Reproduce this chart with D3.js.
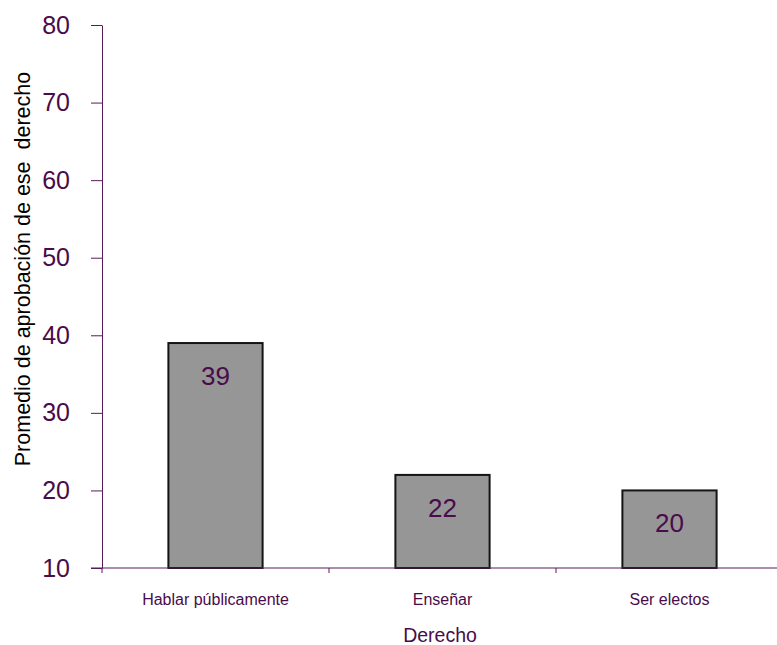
<!DOCTYPE html>
<html><head><meta charset="utf-8">
<script src="https://cdn.jsdelivr.net/npm/d3@7"></script>
<style>body{margin:0;background:#fff}svg{display:block}</style>
</head><body>
<script>
const categories = ["Hablar públicamente", "Enseñar", "Ser electos"];
const values = [39, 22, 20];
const yTicks = [10, 20, 30, 40, 50, 60, 70, 80];
const yTitle = "Promedio de aprobación de ese  derecho";
const xTitle = "Derecho";

const W = 777, H = 645;
const axisColor = "#5a1a5a", textColor = "#4a0b4a";
const FONT = "Liberation Sans, Arial, sans-serif";
const svg = d3.select("body").append("svg").attr("width", W).attr("height", H);

const x = d3.scaleBand().domain(categories).range([102, 783]).paddingInner(0.585).paddingOuter(0.2925);
const y = d3.scaleLinear().domain([10, 80]).range([568, 25]);

// bars
svg.selectAll("rect.bar").data(values).join("rect")
  .attr("x", (d, i) => x(categories[i]))
  .attr("y", d => y(d))
  .attr("width", x.bandwidth())
  .attr("height", d => y(10) - y(d))
  .attr("fill", "#969696").attr("stroke", "#141414").attr("stroke-width", 2);

svg.selectAll("text.val").data(values).join("text")
  .attr("x", (d, i) => x(categories[i]) + x.bandwidth() / 2)
  .attr("y", d => y(d) + 42)
  .attr("text-anchor", "middle")
  .attr("font-family", FONT)
  .attr("font-size", 26).attr("fill", textColor)
  .text(d => d);

// y axis
const yAxis = svg.append("g").attr("transform", "translate(102,0)")
  .call(d3.axisLeft(y).tickValues(yTicks).tickSize(11).tickPadding(21).tickSizeOuter(0));
yAxis.select(".domain").attr("stroke", axisColor);
yAxis.selectAll(".tick line").attr("stroke", axisColor);
yAxis.selectAll(".tick text").attr("fill", textColor)
  .attr("font-family", FONT).attr("font-size", 25);

// x axis
const xAxisG = svg.append("g").attr("transform", "translate(0,568)");
xAxisG.append("line").attr("x1", 91).attr("x2", 777).attr("y1", 0).attr("y2", 0).attr("stroke", axisColor);
const step = x.step();
const bounds = categories.map((c, i) => 102 + i * step);
xAxisG.selectAll("line.tk").data(bounds).join("line")
  .attr("x1", d => d).attr("x2", d => d).attr("y1", 0).attr("y2", 5).attr("stroke", axisColor);

svg.selectAll("text.cat").data(categories).join("text")
  .attr("x", d => x(d) + x.bandwidth() / 2)
  .attr("y", 605)
  .attr("text-anchor", "middle")
  .attr("font-family", FONT)
  .attr("font-size", 16).attr("fill", textColor)
  .text(d => d);

svg.append("text").attr("x", 440).attr("y", 642).attr("text-anchor", "middle")
  .attr("font-family", FONT).attr("font-size", 19.5)
  .attr("fill", textColor).text(xTitle);

svg.append("text").attr("transform", "translate(30,269) rotate(-90)")
  .attr("text-anchor", "middle")
  .attr("font-family", FONT).attr("font-size", 21.5)
  .attr("fill", "#000").style("white-space", "pre")
  .text(yTitle);
</script>
</body></html>
